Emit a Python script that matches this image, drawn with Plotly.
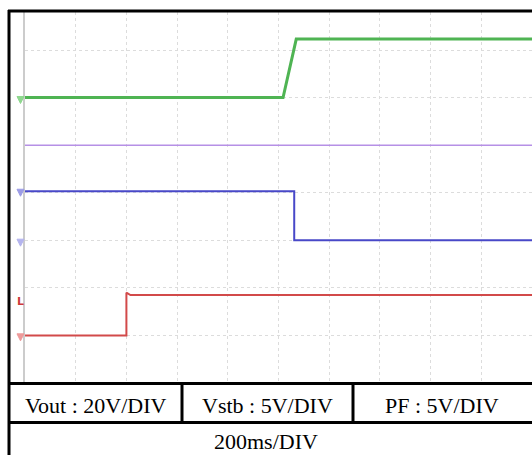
import plotly.graph_objects as go

# ---- data (time and level in scope divisions) ----
vout_t = [0.0, 5.09, 5.35, 10.0]
vout_v = [6.0, 6.0, 7.23, 7.23]

purple_t = [0.0, 10.0]
purple_v = [5.0, 5.0]

vstb_t = [0.0, 5.31, 5.31, 10.0]
vstb_v = [4.03, 4.03, 3.0, 3.0]

pf_t = [0.0, 2.0, 2.0, 2.08, 10.0]
pf_v = [1.0, 1.0, 1.9, 1.85, 1.85]

marker_levels = [5.95, 4.0, 2.95, 0.96]
marker_colors = ["#8fd88f", "#9c9ce6", "#b4b4ee", "#ee9a9a"]
trigger_level = 1.72

cell_labels = ["Vout : 20V/DIV", "Vstb : 5V/DIV", "PF : 5V/DIV"]
time_label = "200ms/DIV"

W, H = 532, 455
L, R, T, B = 25, 532, 12, 383  # plot area in pixels
YMAX = 7.8


def px(x):
    return (x - L) / (R - L)


def py(y):
    return (B - y) / (B - T)


def lvl(v):
    return v / YMAX


fig = go.Figure()
fig.add_trace(go.Scatter(x=purple_t, y=purple_v, mode="lines",
                         line=dict(color="#b690e6", width=1.6), hoverinfo="skip"))
fig.add_trace(go.Scatter(x=vout_t, y=vout_v, mode="lines",
                         line=dict(color="#4fb453", width=3), hoverinfo="skip"))
fig.add_trace(go.Scatter(x=vstb_t, y=vstb_v, mode="lines",
                         line=dict(color="#4848c8", width=2), hoverinfo="skip"))
fig.add_trace(go.Scatter(x=pf_t, y=pf_v, mode="lines",
                         line=dict(color="#d24a4a", width=2), hoverinfo="skip"))

shapes = []
# channel ground markers (small triangles just left of the plot)
for v, c in zip(marker_levels, marker_colors):
    yc = lvl(v)
    dx = 3.5 / (R - L)
    dy = 3.5 / (B - T)
    x0 = px(20.5)
    path = f"M {x0 - dx} {yc + dy} L {x0 + dx} {yc + dy} L {x0} {yc - dy} Z"
    shapes.append(dict(type="path", xref="paper", yref="paper", path=path,
                       fillcolor=c, line=dict(color=c, width=1)))

blk = dict(color="black", width=3)
shapes.append(dict(type="line", xref="paper", yref="paper", x0=px(9), x1=px(9), y0=py(10), y1=py(456), line=blk))
shapes.append(dict(type="line", xref="paper", yref="paper", x0=px(8), x1=px(533), y0=py(11), y1=py(11), line=blk))
shapes.append(dict(type="line", xref="paper", yref="paper", x0=px(8), x1=px(533), y0=py(383.5), y1=py(383.5), line=blk))
shapes.append(dict(type="line", xref="paper", yref="paper", x0=px(8), x1=px(533), y0=py(422.5), y1=py(422.5), line=blk))
for xd in (182, 353):
    shapes.append(dict(type="line", xref="paper", yref="paper", x0=px(xd), x1=px(xd), y0=py(383.5), y1=py(422.5), line=blk))

annotations = []
for lab, cx in zip(cell_labels, [95, 267, 442]):
    annotations.append(dict(text=lab, x=px(cx), y=py(405), xref="paper", yref="paper",
                            xanchor="center", yanchor="middle", showarrow=False,
                            font=dict(family="Liberation Serif", size=22, color="black")))
annotations.append(dict(text=time_label, x=px(266), y=py(441.5), xref="paper", yref="paper",
                        xanchor="center", yanchor="middle", showarrow=False,
                        font=dict(family="Liberation Serif", size=22, color="black")))
annotations.append(dict(text="<b>L</b>", x=px(20.5), y=lvl(trigger_level), xref="paper", yref="paper",
                        xanchor="center", yanchor="middle", showarrow=False,
                        font=dict(family="DejaVu Sans", size=11, color="#cc3a3a")))

fig.update_layout(
    width=W, height=H,
    margin=dict(l=L, r=W - R, t=T, b=H - B, pad=0),
    paper_bgcolor="white", plot_bgcolor="white",
    showlegend=False,
    shapes=shapes, annotations=annotations,
    xaxis=dict(range=[0, 10], dtick=1, showticklabels=False, ticks="",
               showgrid=True, gridcolor="#dcdcdc", griddash="dot", gridwidth=1,
               zeroline=False, showline=False, fixedrange=True),
    yaxis=dict(range=[0, YMAX], dtick=1, showticklabels=False, ticks="",
               showgrid=True, gridcolor="#dcdcdc", griddash="dot", gridwidth=1,
               zeroline=False, showline=True, linecolor="#cccccc", linewidth=2,
               fixedrange=True),
)

fig.write_html("out.html")
